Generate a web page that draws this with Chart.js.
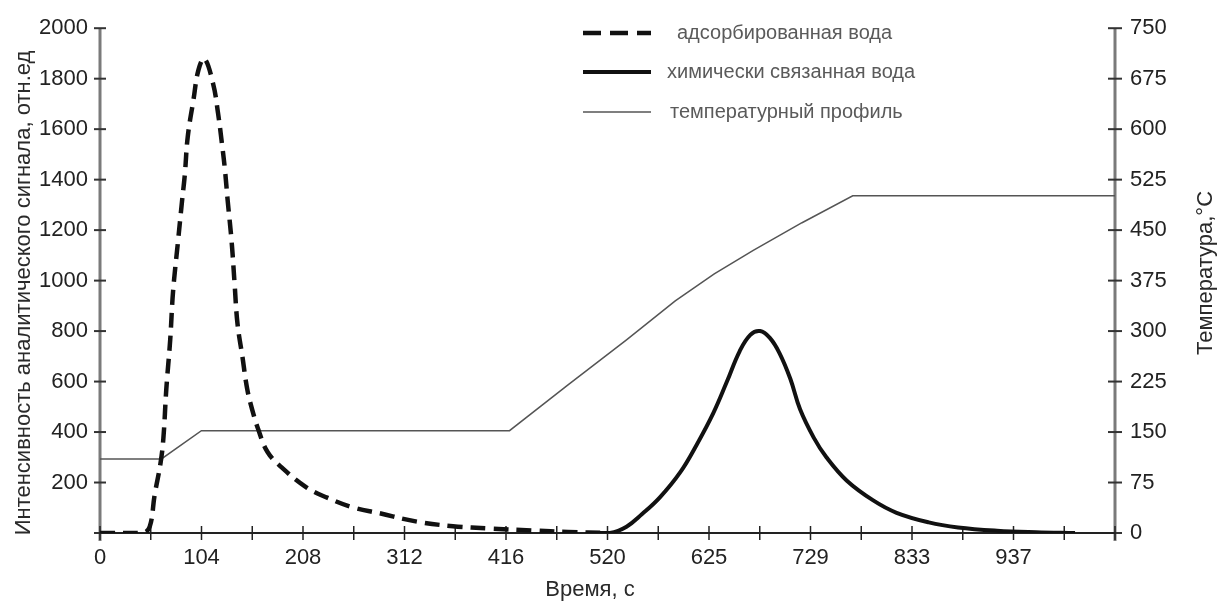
<!DOCTYPE html>
<html lang="ru">
<head>
<meta charset="utf-8">
<title>Термодесорбция воды</title>
<script src="https://cdn.jsdelivr.net/npm/chart.js@4.4.1/dist/chart.umd.min.js"></script>
<style>
  html, body { margin: 0; padding: 0; background: #fff; }
  #wrap { width: 1219px; height: 604px; }
</style>
</head>
<body>
<div id="wrap"><canvas id="tdChart" width="1219" height="604"></canvas></div>
<script>
// подписи оси времени (каждое второе деление)
const xTickLabels = ['0', '104', '208', '312', '416', '520', '625', '729', '833', '937'];
const xStep = 52.05;
const xMax = 1041;

// адсорбированная вода
const adsorbTime   = [0, 44, 51, 56, 62, 65, 68, 72, 75, 80, 84, 87, 90, 96, 101, 107, 116, 121, 125, 128, 131, 135, 138, 141, 146, 151, 156, 162, 172, 188, 212, 233, 259, 287, 325, 362, 400, 444, 480, 520];
const adsorbSignal = [0, 0, 25, 150, 275, 375, 570, 765, 960, 1155, 1310, 1420, 1570, 1720, 1835, 1880, 1780, 1665, 1545, 1445, 1315, 1155, 990, 830, 700, 570, 490, 414, 320, 254, 180, 140, 102, 78, 45, 27, 18, 10, 4, 0];

// химически связанная вода
const boundTime   = [500, 523, 540, 556, 574, 595, 612, 629, 643, 656, 667, 677, 687, 697, 708, 718, 732, 745, 766, 793, 817, 850, 880, 920, 960, 1000];
const boundSignal = [0, 0, 25, 75, 140, 240, 350, 475, 600, 720, 785, 800, 773, 712, 611, 490, 378, 300, 207, 129, 80, 42, 22, 9, 3, 0];

// температурный профиль, °C
const tempTime  = [0, 63, 104, 420, 480, 540, 590, 630, 670, 720, 772, 1041];
const tempValue = [110, 110, 152, 152, 220, 287, 345, 385, 420, 461, 501, 501];

const pts = (xs, ys) => xs.map((x, i) => ({ x: x, y: ys[i] }));

Chart.defaults.font.family = "'Liberation Sans', Arial, sans-serif";
Chart.defaults.color = '#222';

// оси с делениями поперёк линии, подписи осей и легенда
const axisDecor = {
  id: 'axisDecor',
  beforeDatasetsDraw(chart) {
    const { ctx, chartArea: a, scales } = chart;
    const seg = (x1, y1, x2, y2) => { ctx.beginPath(); ctx.moveTo(x1, y1); ctx.lineTo(x2, y2); ctx.stroke(); };
    ctx.save();
    ctx.lineCap = 'butt';

    ctx.strokeStyle = '#7a7a7a';
    ctx.lineWidth = 3;
    seg(a.left, a.top, a.left, a.bottom + 8);
    seg(a.right, a.top, a.right, a.bottom + 8);

    ctx.strokeStyle = '#333';
    ctx.lineWidth = 2;
    scales.y.ticks.forEach(t => {
      const y = scales.y.getPixelForValue(t.value);
      seg(a.left - 6, y, a.left + 6, y);
    });
    scales.y2.ticks.forEach(t => {
      const y = scales.y2.getPixelForValue(t.value);
      seg(a.right - 7, y, a.right + 7, y);
    });

    ctx.strokeStyle = '#222';
    seg(a.left, a.bottom, a.right, a.bottom);
    ctx.lineWidth = 1.5;
    scales.x.ticks.forEach(t => {
      const x = scales.x.getPixelForValue(t.value);
      seg(x, a.bottom - 7, x, a.bottom + 7);
    });
    ctx.restore();
  },
  afterDraw(chart) {
    const { ctx } = chart;
    ctx.save();
    ctx.fillStyle = '#2a2a2a';
    ctx.font = "22px 'Liberation Sans', Arial, sans-serif";
    ctx.textAlign = 'center';
    ctx.textBaseline = 'middle';

    ctx.save();
    ctx.translate(24, 293);
    ctx.rotate(-Math.PI / 2);
    ctx.fillText('Интенсивность аналитического сигнала, отн.ед', 0, 0);
    ctx.restore();

    ctx.save();
    ctx.translate(1206, 273);
    ctx.rotate(-Math.PI / 2);
    ctx.fillText('Температура,°С', 0, 0);
    ctx.restore();

    ctx.fillText('Время, с', 590, 590);

    // легенда
    const rows = [33, 72, 112];
    const textX = [677, 667, 670];
    ctx.font = "20px 'Liberation Sans', Arial, sans-serif";
    ctx.textAlign = 'left';
    chart.data.datasets.forEach((ds, i) => {
      const y = rows[i];
      ctx.strokeStyle = ds.borderColor;
      ctx.lineWidth = ds.borderWidth;
      ctx.setLineDash(ds.borderDash ? [18, 9] : []);
      ctx.beginPath();
      ctx.moveTo(583, y);
      ctx.lineTo(651, y);
      ctx.stroke();
      ctx.setLineDash([]);
      ctx.fillStyle = '#5a5a5a';
      ctx.fillText(ds.label, textX[i], y);
    });
    ctx.restore();
  }
};

new Chart(document.getElementById('tdChart').getContext('2d'), {
  type: 'line',
  data: {
    datasets: [{
      label: 'адсорбированная вода',
      data: pts(adsorbTime, adsorbSignal),
      borderColor: '#111',
      borderWidth: 4.5,
      borderDash: [15, 8],
      tension: 0.4,
      pointRadius: 0,
      yAxisID: 'y'
    }, {
      label: 'химически связанная вода',
      data: pts(boundTime, boundSignal),
      borderColor: '#111',
      borderWidth: 4,
      tension: 0.4,
      pointRadius: 0,
      yAxisID: 'y'
    }, {
      label: 'температурный профиль',
      data: pts(tempTime, tempValue),
      borderColor: '#555',
      borderWidth: 1.5,
      tension: 0,
      pointRadius: 0,
      yAxisID: 'y2'
    }]
  },
  options: {
    responsive: false,
    animation: false,
    devicePixelRatio: 1,
    layout: { padding: { top: 21, left: 0, right: 0, bottom: 0 } },
    plugins: { legend: { display: false }, tooltip: { enabled: false } },
    scales: {
      x: {
        type: 'linear',
        min: 0,
        max: xMax,
        grid: { display: false, drawTicks: false },
        border: { display: false },
        afterBuildTicks: s => {
          s.ticks = [];
          for (let i = 0; i <= 20; i++) s.ticks.push({ value: i * xStep });
        },
        ticks: {
          autoSkip: false,
          maxRotation: 0,
          padding: 12,
          font: { size: 22 },
          callback: (v, i) => (i % 2 === 0 && xTickLabels[i / 2] !== undefined) ? xTickLabels[i / 2] : ''
        },
        afterFit: s => { s.height = 71; }
      },
      y: {
        position: 'left',
        min: 0,
        max: 2000,
        grid: { display: false, drawTicks: false },
        border: { display: false },
        ticks: {
          stepSize: 200,
          padding: 12,
          font: { size: 22 },
          callback: v => v === 0 ? '' : v
        },
        afterFit: s => { s.width = 100; }
      },
      y2: {
        position: 'right',
        min: 0,
        max: 750,
        grid: { display: false, drawTicks: false },
        border: { display: false },
        ticks: {
          stepSize: 75,
          padding: 15,
          font: { size: 22 }
        },
        afterFit: s => { s.width = 104; }
      }
    }
  },
  plugins: [axisDecor]
});
</script>
</body>
</html>
